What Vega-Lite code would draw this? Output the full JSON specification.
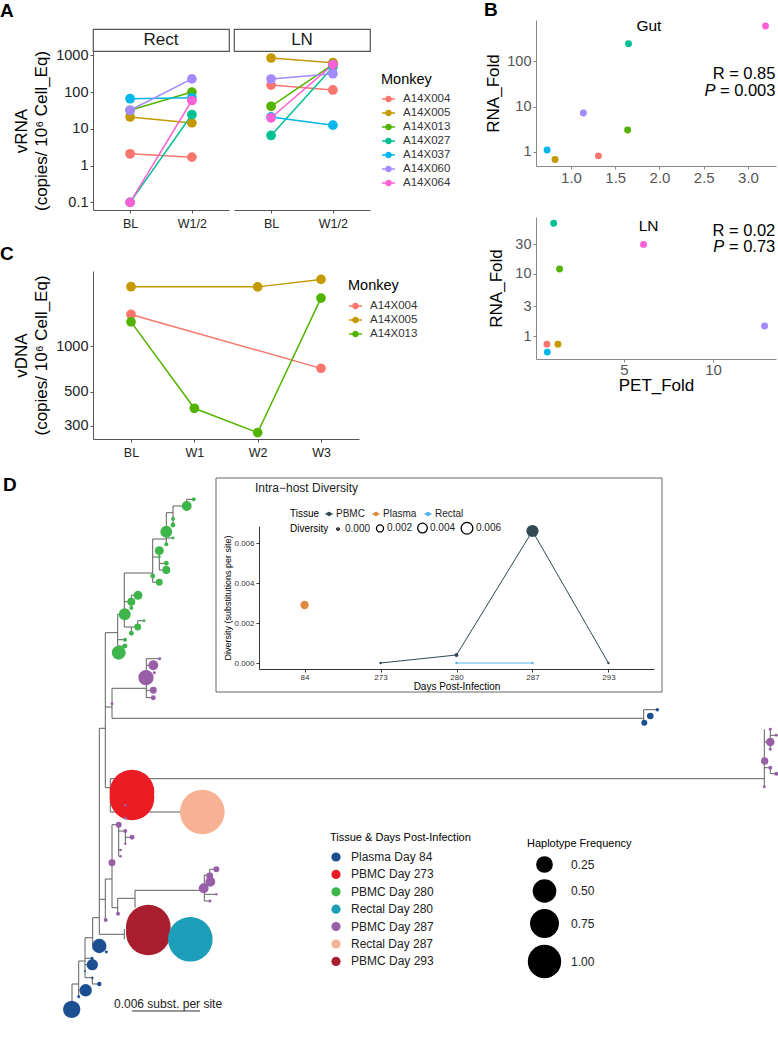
{
"$schema": "https://vega.github.io/schema/vega-lite/v6.json",
"padding": {"left": 0, "top": 0, "right": 0, "bottom": 0},
"background": "white",
"config": {
  "font": "Liberation Sans",
  "view": {"stroke": null},
  "axis": {"grid": false, "domainColor": "#555", "tickColor": "#555", "labelColor": "#222", "titleColor": "#000", "titleFontWeight": "normal", "tickSize": 3, "domainWidth": 1, "tickWidth": 1},
  "legend": {"titleFontWeight": "normal", "titleColor": "#000", "labelColor": "#222"},
  "title": {"fontSize": 19, "fontWeight": "bold", "anchor": "start", "frame": "group", "color": "#000"}
},
"datasets": {
  "vrna": [
    {"site":"Rect","time":"BL","monkey":"A14X004","value":2.1},
    {"site":"Rect","time":"W1/2","monkey":"A14X004","value":1.7},
    {"site":"Rect","time":"BL","monkey":"A14X005","value":21},
    {"site":"Rect","time":"W1/2","monkey":"A14X005","value":14.5},
    {"site":"Rect","time":"BL","monkey":"A14X013","value":32},
    {"site":"Rect","time":"W1/2","monkey":"A14X013","value":100},
    {"site":"Rect","time":"BL","monkey":"A14X027","value":0.1},
    {"site":"Rect","time":"W1/2","monkey":"A14X027","value":24.5},
    {"site":"Rect","time":"BL","monkey":"A14X037","value":66},
    {"site":"Rect","time":"W1/2","monkey":"A14X037","value":70},
    {"site":"Rect","time":"BL","monkey":"A14X060","value":32},
    {"site":"Rect","time":"W1/2","monkey":"A14X060","value":228},
    {"site":"Rect","time":"BL","monkey":"A14X064","value":0.1},
    {"site":"Rect","time":"W1/2","monkey":"A14X064","value":59},
    {"site":"LN","time":"BL","monkey":"A14X004","value":155},
    {"site":"LN","time":"W1/2","monkey":"A14X004","value":114},
    {"site":"LN","time":"BL","monkey":"A14X005","value":845},
    {"site":"LN","time":"W1/2","monkey":"A14X005","value":630},
    {"site":"LN","time":"BL","monkey":"A14X013","value":41},
    {"site":"LN","time":"W1/2","monkey":"A14X013","value":570},
    {"site":"LN","time":"BL","monkey":"A14X027","value":6.6},
    {"site":"LN","time":"W1/2","monkey":"A14X027","value":480},
    {"site":"LN","time":"BL","monkey":"A14X037","value":21},
    {"site":"LN","time":"W1/2","monkey":"A14X037","value":12.6},
    {"site":"LN","time":"BL","monkey":"A14X060","value":226},
    {"site":"LN","time":"W1/2","monkey":"A14X060","value":316},
    {"site":"LN","time":"BL","monkey":"A14X064","value":20},
    {"site":"LN","time":"W1/2","monkey":"A14X064","value":560}
  ],
  "vdna": [
    {"monkey":"A14X004","time":"BL","value":1610},
    {"monkey":"A14X004","time":"W3","value":714},
    {"monkey":"A14X005","time":"BL","value":2445},
    {"monkey":"A14X005","time":"W2","value":2440},
    {"monkey":"A14X005","time":"W3","value":2730},
    {"monkey":"A14X013","time":"BL","value":1440},
    {"monkey":"A14X013","time":"W1","value":391},
    {"monkey":"A14X013","time":"W2","value":271},
    {"monkey":"A14X013","time":"W3","value":2060}
  ],
  "gut": [
    {"monkey":"A14X004","pet":1.31,"rna":0.82},
    {"monkey":"A14X005","pet":0.82,"rna":0.68},
    {"monkey":"A14X013","pet":1.64,"rna":3.06},
    {"monkey":"A14X027","pet":1.65,"rna":244},
    {"monkey":"A14X037","pet":0.73,"rna":1.1},
    {"monkey":"A14X060","pet":1.14,"rna":7.2},
    {"monkey":"A14X064","pet":3.197,"rna":600}
  ],
  "ln": [
    {"monkey":"A14X004","pet":0.67,"rna":0.74},
    {"monkey":"A14X005","pet":1.29,"rna":0.74},
    {"monkey":"A14X013","pet":1.38,"rna":12},
    {"monkey":"A14X027","pet":1.05,"rna":66},
    {"monkey":"A14X037","pet":0.69,"rna":0.55},
    {"monkey":"A14X060","pet":12.9,"rna":1.45},
    {"monkey":"A14X064","pet":6.1,"rna":30}
  ],
  "edges": [
    {"x1":104.3,"y1":631.7,"x2":116.7,"y2":631.7},
    {"x1":116.7,"y1":613.3,"x2":116.7,"y2":651.7},
    {"x1":116.7,"y1":613.3,"x2":123.3,"y2":613.3},
    {"x1":116.7,"y1":638.7,"x2":124,"y2":638.7},
    {"x1":116.7,"y1":645,"x2":124,"y2":645},
    {"x1":123.3,"y1":572,"x2":123.3,"y2":626},
    {"x1":123.3,"y1":626,"x2":136.7,"y2":626},
    {"x1":130.3,"y1":626,"x2":130.3,"y2":632.3},
    {"x1":136.7,"y1":619.7,"x2":136.7,"y2":626},
    {"x1":136.7,"y1":619.7,"x2":143,"y2":619.7},
    {"x1":123.3,"y1":600.7,"x2":130.3,"y2":600.7},
    {"x1":130.3,"y1":594.3,"x2":130.3,"y2":607},
    {"x1":130.3,"y1":594.3,"x2":137,"y2":594.3},
    {"x1":123.3,"y1":572,"x2":151.7,"y2":572},
    {"x1":151.7,"y1":538,"x2":151.7,"y2":581.3},
    {"x1":151.7,"y1":581.3,"x2":158.3,"y2":581.3},
    {"x1":151.7,"y1":556,"x2":158.3,"y2":556},
    {"x1":158.3,"y1":549.7,"x2":158.3,"y2":569},
    {"x1":158.3,"y1":562.3,"x2":165.3,"y2":562.3},
    {"x1":158.3,"y1":569,"x2":165.3,"y2":569},
    {"x1":151.7,"y1":538,"x2":165.3,"y2":538},
    {"x1":165.3,"y1":511.7,"x2":165.3,"y2":543.3},
    {"x1":165.3,"y1":537,"x2":172,"y2":537},
    {"x1":165.3,"y1":511.7,"x2":172,"y2":511.7},
    {"x1":172,"y1":505,"x2":172,"y2":524},
    {"x1":172,"y1":505,"x2":185.7,"y2":505},
    {"x1":185.7,"y1":498.3,"x2":185.7,"y2":505},
    {"x1":185.7,"y1":498.3,"x2":192.7,"y2":498.3},
    {"x1":104.3,"y1":631.7,"x2":104.3,"y2":786.7},
    {"x1":104.3,"y1":706,"x2":111,"y2":706},
    {"x1":111,"y1":687.3,"x2":111,"y2":717.3},
    {"x1":111,"y1":687.3,"x2":145.3,"y2":687.3},
    {"x1":145.3,"y1":657.7,"x2":145.3,"y2":696.7},
    {"x1":145.3,"y1":657.7,"x2":158.7,"y2":657.7},
    {"x1":145.3,"y1":664.3,"x2":152.3,"y2":664.3},
    {"x1":145.3,"y1":689.3,"x2":152.3,"y2":689.3},
    {"x1":145.3,"y1":696.7,"x2":152.3,"y2":696.7},
    {"x1":111,"y1":717.3,"x2":642.7,"y2":717.3},
    {"x1":642.7,"y1":708.7,"x2":642.7,"y2":721.7},
    {"x1":642.7,"y1":708.7,"x2":656.3,"y2":708.7},
    {"x1":98.3,"y1":727.3,"x2":104.3,"y2":727.3},
    {"x1":98.3,"y1":727.3,"x2":98.3,"y2":933.3},
    {"x1":104.3,"y1":786.7,"x2":109.3,"y2":786.7},
    {"x1":109.3,"y1":777.7,"x2":109.3,"y2":811},
    {"x1":109.3,"y1":777.7,"x2":763.3,"y2":777.7},
    {"x1":763.3,"y1":728.3,"x2":763.3,"y2":785.7},
    {"x1":763.3,"y1":741,"x2":769.3,"y2":741},
    {"x1":769.3,"y1":728.3,"x2":769.3,"y2":748.3},
    {"x1":769.3,"y1":734.3,"x2":775.3,"y2":734.3},
    {"x1":763.3,"y1":766.7,"x2":769.3,"y2":766.7},
    {"x1":769.3,"y1":766.7,"x2":769.3,"y2":772.7},
    {"x1":769.3,"y1":772.7,"x2":775.3,"y2":772.7},
    {"x1":109.3,"y1":811,"x2":180,"y2":811},
    {"x1":111,"y1":823.7,"x2":111,"y2":906.7},
    {"x1":111,"y1":823.7,"x2":117.7,"y2":823.7},
    {"x1":117.7,"y1":823.7,"x2":117.7,"y2":855.3},
    {"x1":117.7,"y1":830,"x2":124.3,"y2":830},
    {"x1":124.3,"y1":830,"x2":124.3,"y2":842.7},
    {"x1":124.3,"y1":836.3,"x2":131,"y2":836.3},
    {"x1":117.7,"y1":849,"x2":119.7,"y2":849},
    {"x1":117.7,"y1":855.3,"x2":119.7,"y2":855.3},
    {"x1":104.3,"y1":878,"x2":111,"y2":878},
    {"x1":104.3,"y1":878,"x2":104.3,"y2":919},
    {"x1":98.3,"y1":898.3,"x2":104.3,"y2":898.3},
    {"x1":111,"y1":906.7,"x2":116.7,"y2":906.7},
    {"x1":116.7,"y1":897.3,"x2":116.7,"y2":912.7},
    {"x1":116.7,"y1":897.3,"x2":134,"y2":897.3},
    {"x1":134,"y1":889.3,"x2":134,"y2":906.7},
    {"x1":134,"y1":889.3,"x2":203.3,"y2":889.3},
    {"x1":203.3,"y1":874,"x2":203.3,"y2":900},
    {"x1":203.3,"y1":874,"x2":208.7,"y2":874},
    {"x1":208.7,"y1":868.3,"x2":208.7,"y2":880.7},
    {"x1":208.7,"y1":868.3,"x2":215.3,"y2":868.3},
    {"x1":203.3,"y1":893.3,"x2":215.3,"y2":893.3},
    {"x1":203.3,"y1":900,"x2":209,"y2":900},
    {"x1":98.3,"y1":933.3,"x2":123.3,"y2":933.3},
    {"x1":123.3,"y1":928,"x2":123.3,"y2":938.3},
    {"x1":91.7,"y1":916.7,"x2":98.3,"y2":916.7},
    {"x1":91.7,"y1":916.7,"x2":91.7,"y2":945},
    {"x1":91.7,"y1":945,"x2":98.3,"y2":945},
    {"x1":84,"y1":936.7,"x2":91.7,"y2":936.7},
    {"x1":84,"y1":936.7,"x2":84,"y2":976.7},
    {"x1":84,"y1":957.3,"x2":91,"y2":957.3},
    {"x1":84,"y1":963.7,"x2":91.3,"y2":963.7},
    {"x1":84,"y1":976.7,"x2":91.3,"y2":976.7},
    {"x1":91.3,"y1":976.7,"x2":91.3,"y2":983},
    {"x1":91.3,"y1":983,"x2":98.3,"y2":983},
    {"x1":77.7,"y1":960,"x2":84,"y2":960},
    {"x1":77.7,"y1":960,"x2":77.7,"y2":995.7},
    {"x1":77.7,"y1":989.3,"x2":84.7,"y2":989.3},
    {"x1":71,"y1":983,"x2":77.7,"y2":983},
    {"x1":71,"y1":983,"x2":71,"y2":1008.3}
  ],
  "nodes": [
    {"x":131,"y":791,"group":"PBMC Day 273","freq":1.0},
    {"x":131,"y":797,"group":"PBMC Day 273","freq":1.0},
    {"x":201.3,"y":811,"group":"Rectal Day 287","freq":1.0},
    {"x":147.3,"y":926,"group":"PBMC Day 293","freq":1.0},
    {"x":147.3,"y":932,"group":"PBMC Day 293","freq":1.0},
    {"x":189.3,"y":938.3,"group":"Rectal Day 280","freq":1.0},
    {"x":98.3,"y":945,"group":"Plasma Day 84","freq":0.105},
    {"x":105.3,"y":951,"group":"Plasma Day 84","freq":0.0044},
    {"x":91.3,"y":963.7,"group":"Plasma Day 84","freq":0.064},
    {"x":91,"y":957.3,"group":"Plasma Day 84","freq":0.0044},
    {"x":84.7,"y":989.3,"group":"Plasma Day 84","freq":0.078},
    {"x":77.7,"y":995.7,"group":"Plasma Day 84","freq":0.0044},
    {"x":91.3,"y":976.7,"group":"Plasma Day 84","freq":0.0033},
    {"x":98.3,"y":983,"group":"Plasma Day 84","freq":0.010},
    {"x":84,"y":970,"group":"Plasma Day 84","freq":0.002},
    {"x":70.7,"y":1008.3,"group":"Plasma Day 84","freq":0.150},
    {"x":643.3,"y":721.7,"group":"Plasma Day 84","freq":0.018},
    {"x":649.3,"y":715,"group":"Plasma Day 84","freq":0.022},
    {"x":656.3,"y":708.7,"group":"Plasma Day 84","freq":0.006},
    {"x":192.7,"y":498.3,"group":"PBMC Day 280","freq":0.008},
    {"x":185.7,"y":505,"group":"PBMC Day 280","freq":0.049},
    {"x":172,"y":517.7,"group":"PBMC Day 280","freq":0.008},
    {"x":172,"y":524,"group":"PBMC Day 280","freq":0.012},
    {"x":165.3,"y":530.7,"group":"PBMC Day 280","freq":0.071},
    {"x":172,"y":537,"group":"PBMC Day 280","freq":0.0044},
    {"x":165.3,"y":543.3,"group":"PBMC Day 280","freq":0.008},
    {"x":158.3,"y":549.7,"group":"PBMC Day 280","freq":0.040},
    {"x":158.3,"y":556,"group":"PBMC Day 280","freq":0.0044},
    {"x":165.3,"y":562.3,"group":"PBMC Day 280","freq":0.012},
    {"x":165.3,"y":569,"group":"PBMC Day 280","freq":0.032},
    {"x":151.7,"y":575,"group":"PBMC Day 280","freq":0.012},
    {"x":158.3,"y":581.3,"group":"PBMC Day 280","freq":0.024},
    {"x":137,"y":594.3,"group":"PBMC Day 280","freq":0.040},
    {"x":130.3,"y":600.7,"group":"PBMC Day 280","freq":0.032},
    {"x":130.3,"y":607,"group":"PBMC Day 280","freq":0.008},
    {"x":123.7,"y":613.3,"group":"PBMC Day 280","freq":0.071},
    {"x":143,"y":619.7,"group":"PBMC Day 280","freq":0.0044},
    {"x":136.7,"y":626,"group":"PBMC Day 280","freq":0.024},
    {"x":130.3,"y":632.3,"group":"PBMC Day 280","freq":0.012},
    {"x":124,"y":638.7,"group":"PBMC Day 280","freq":0.008},
    {"x":124,"y":645,"group":"PBMC Day 280","freq":0.012},
    {"x":117.7,"y":651.7,"group":"PBMC Day 280","freq":0.097},
    {"x":145,"y":676.7,"group":"PBMC Day 287","freq":0.117},
    {"x":152.3,"y":664.3,"group":"PBMC Day 287","freq":0.049},
    {"x":152.3,"y":689.3,"group":"PBMC Day 287","freq":0.024},
    {"x":152.3,"y":696.7,"group":"PBMC Day 287","freq":0.012},
    {"x":158.7,"y":657.7,"group":"PBMC Day 287","freq":0.0044},
    {"x":153.3,"y":671.7,"group":"PBMC Day 287","freq":0.0044},
    {"x":111,"y":702.7,"group":"PBMC Day 287","freq":0.0044},
    {"x":117.7,"y":823.7,"group":"PBMC Day 287","freq":0.018},
    {"x":124.3,"y":830,"group":"PBMC Day 287","freq":0.008},
    {"x":131,"y":836.3,"group":"PBMC Day 287","freq":0.012},
    {"x":124.3,"y":842.7,"group":"PBMC Day 287","freq":0.0028},
    {"x":119.7,"y":849,"group":"PBMC Day 287","freq":0.0028},
    {"x":119.7,"y":855.3,"group":"PBMC Day 287","freq":0.0028},
    {"x":111,"y":861.7,"group":"PBMC Day 287","freq":0.024},
    {"x":117,"y":912.7,"group":"PBMC Day 287","freq":0.008},
    {"x":104.7,"y":919,"group":"PBMC Day 287","freq":0.008},
    {"x":124.3,"y":804.3,"group":"PBMC Day 287","freq":0.0033},
    {"x":124.3,"y":817.3,"group":"PBMC Day 287","freq":0.0044},
    {"x":202.7,"y":887.3,"group":"PBMC Day 287","freq":0.049},
    {"x":209.3,"y":880.7,"group":"PBMC Day 287","freq":0.049},
    {"x":208.7,"y":875,"group":"PBMC Day 287","freq":0.024},
    {"x":215.3,"y":868.3,"group":"PBMC Day 287","freq":0.018},
    {"x":215.3,"y":893.3,"group":"PBMC Day 287","freq":0.0028},
    {"x":209,"y":900,"group":"PBMC Day 287","freq":0.0044},
    {"x":769.3,"y":741,"group":"PBMC Day 287","freq":0.037},
    {"x":763.7,"y":760,"group":"PBMC Day 287","freq":0.027},
    {"x":769.3,"y":728.3,"group":"PBMC Day 287","freq":0.0044},
    {"x":775.3,"y":734.3,"group":"PBMC Day 287","freq":0.0044},
    {"x":769.3,"y":748.3,"group":"PBMC Day 287","freq":0.0044},
    {"x":769.3,"y":766.7,"group":"PBMC Day 287","freq":0.008},
    {"x":775.3,"y":772.7,"group":"PBMC Day 287","freq":0.008},
    {"x":763.3,"y":785.7,"group":"PBMC Day 287","freq":0.0044}
  ],
  "div": [
    {"tissue":"Plasma","day":84,"div":0.0029},
    {"tissue":"PBMC","day":273,"div":0},
    {"tissue":"PBMC","day":280,"div":0.0004},
    {"tissue":"PBMC","day":287,"div":0.0066},
    {"tissue":"PBMC","day":293,"div":0},
    {"tissue":"Rectal","day":280,"div":0},
    {"tissue":"Rectal","day":287,"div":0}
  ]
},
"vconcat": [
  {
    "hconcat": [
      {
        "vconcat": [
          {
            "hconcat": [
              {
                "vconcat": [
                  {
                    "width": 136, "height": 9,
                    "title": {"text": "A", "dx": -93, "offset": -1},
                    "data": {"values": []},
                    "mark": "text"
                  },
                  {
                    "width": 136, "height": 22,
                    "view": {"stroke": "#555", "strokeWidth": 1.2},
                    "data": {"values": [{"s": "Rect"}]},
                    "mark": {"type": "text", "fontSize": 17, "color": "#1a1a1a"},
                    "encoding": {"text": {"field": "s"}}
                  },
                  {
                    "width": 136, "height": 159,
                    "data": {"name": "vrna"},
                    "transform": [{"filter": "datum.site === 'Rect'"}],
                    "encoding": {
                      "x": {"field": "time", "type": "nominal", "scale": {"type": "point", "padding": 0.6, "domain": ["BL", "W1/2"]}, "axis": {"title": null, "labelAngle": 0, "labelFontSize": 12.5, "labelPadding": 4}},
                      "y": {"field": "value", "type": "quantitative", "scale": {"type": "log", "domain": [0.062, 1310], "nice": false}, "axis": {"values": [0.1, 1, 10, 100, 1000], "format": "~g", "labelFontSize": 14.5, "title": ["vRNA", "(copies/ 10⁶ Cell_Eq)"], "titleFontSize": 17, "titleLineHeight": 20, "titlePadding": 5}},
                      "color": {"field": "monkey", "type": "nominal", "scale": {"domain": ["A14X004","A14X005","A14X013","A14X027","A14X037","A14X060","A14X064"], "range": ["#F8766D","#C49A00","#53B400","#00C094","#00B6EB","#A58AFF","#FB61D7"]}, "legend": null}
                    },
                    "layer": [
                      {"mark": {"type": "line", "strokeWidth": 1.5}},
                      {"mark": {"type": "point", "filled": true, "size": 95, "opacity": 1}}
                    ]
                  }
                ],
                "bounds": "flush", "spacing": 0
              },
              {
                "vconcat": [
                  {
                    "width": 136, "height": 9,
                    "data": {"values": []},
                    "mark": "text"
                  },
                  {
                    "width": 136, "height": 22,
                    "view": {"stroke": "#555", "strokeWidth": 1.2},
                    "data": {"values": [{"s": "LN"}]},
                    "mark": {"type": "text", "fontSize": 17, "color": "#1a1a1a"},
                    "encoding": {"text": {"field": "s"}}
                  },
                  {
                    "width": 136, "height": 159,
                    "data": {"name": "vrna"},
                    "transform": [{"filter": "datum.site === 'LN'"}],
                    "encoding": {
                      "x": {"field": "time", "type": "nominal", "scale": {"type": "point", "padding": 0.6, "domain": ["BL", "W1/2"]}, "axis": {"title": null, "labelAngle": 0, "labelFontSize": 12.5, "labelPadding": 4}},
                      "y": {"field": "value", "type": "quantitative", "scale": {"type": "log", "domain": [0.062, 1310], "nice": false}, "axis": null},
                      "color": {"field": "monkey", "type": "nominal", "scale": {"domain": ["A14X004","A14X005","A14X013","A14X027","A14X037","A14X060","A14X064"], "range": ["#F8766D","#C49A00","#53B400","#00C094","#00B6EB","#A58AFF","#FB61D7"]},
                        "legend": {"title": "Monkey", "orient": "none", "legendX": 147, "legendY": 22, "titleFontSize": 14.5, "labelFontSize": 11.5, "labelColor": "#333", "symbolType": "M-1,0L1,0M-0.4,0A0.4,0.4,0,1,0,0.4,0A0.4,0.4,0,1,0,-0.4,0Z", "symbolSize": 170, "symbolStrokeWidth": 1.5, "rowPadding": -0.3, "titlePadding": 4, "labelOffset": 7}}
                    },
                    "layer": [
                      {"mark": {"type": "line", "strokeWidth": 1.5}},
                      {"mark": {"type": "point", "filled": true, "size": 95, "opacity": 1}}
                    ]
                  }
                ],
                "bounds": "flush", "spacing": 0,
                "resolve": {"scale": {"color": "independent"}, "legend": {"color": "independent"}}
              }
            ],
            "spacing": 3,
            "resolve": {"scale": {"color": "independent"}, "legend": {"color": "independent"}}
          },
          {
            "width": 266, "height": 168,
            "title": {"text": "C", "dx": -93, "offset": 7},
            "data": {"name": "vdna"},
            "encoding": {
              "x": {"field": "time", "type": "nominal", "scale": {"type": "point", "padding": 0.6, "domain": ["BL", "W1", "W2", "W3"]}, "axis": {"title": null, "labelAngle": 0, "labelFontSize": 12.5, "labelPadding": 4}},
              "y": {"field": "value", "type": "quantitative", "scale": {"type": "log", "domain": [246, 3100], "nice": false}, "axis": {"values": [300, 500, 1000], "format": "d", "labelFontSize": 14.5, "title": ["vDNA", "(copies/ 10⁶ Cell_Eq)"], "titleFontSize": 17, "titleLineHeight": 20, "titlePadding": 5}},
              "color": {"field": "monkey", "type": "nominal", "scale": {"domain": ["A14X004","A14X005","A14X013"], "range": ["#F8766D","#C49A00","#53B400"]},
                "legend": {"title": "Monkey", "orient": "none", "legendX": 255, "legendY": 8, "titleFontSize": 14.5, "labelFontSize": 11.5, "labelColor": "#333", "symbolType": "M-1,0L1,0M-0.4,0A0.4,0.4,0,1,0,0.4,0A0.4,0.4,0,1,0,-0.4,0Z", "symbolSize": 170, "symbolStrokeWidth": 1.5, "rowPadding": -0.3, "titlePadding": 5, "labelOffset": 7}}
            },
            "layer": [
              {"mark": {"type": "line", "strokeWidth": 1.5}},
              {"mark": {"type": "point", "filled": true, "size": 95, "opacity": 1}}
            ]
          }
        ],
        "spacing": 15,
        "resolve": {"scale": {"color": "independent"}, "legend": {"color": "independent"}}
      },
      {
        "vconcat": [
          {
            "width": 240, "height": 146,
            "title": {"text": "B", "dx": -52, "offset": -1},
            "layer": [
              {
                "data": {"name": "gut"},
                "mark": {"type": "point", "filled": true, "size": 48, "opacity": 1},
                "encoding": {
                  "x": {"field": "pet", "type": "quantitative", "scale": {"domain": [0.605, 3.316], "nice": false, "zero": false}, "axis": {"values": [1, 1.5, 2, 2.5, 3], "format": ".1f", "title": null, "labelFontSize": 15, "labelColor": "#555", "labelPadding": 1, "domainColor": "#888", "tickColor": "#888"}},
                  "y": {"field": "rna", "type": "quantitative", "scale": {"type": "log", "domain": [0.49, 813], "nice": false}, "axis": {"values": [1, 10, 100], "format": "~g", "title": "RNA_Fold", "titleFontSize": 17, "titlePadding": 4, "labelFontSize": 14.5, "labelColor": "#555", "domainColor": "#888", "tickColor": "#888"}},
                  "color": {"field": "monkey", "type": "nominal", "scale": {"domain": ["A14X004","A14X005","A14X013","A14X027","A14X037","A14X060","A14X064"], "range": ["#F8766D","#C49A00","#53B400","#00C094","#00B6EB","#A58AFF","#FB61D7"]}, "legend": null}
                }
              },
              {
                "data": {"values": [{"pet": 1.88, "rna": 600, "label": "Gut"}]},
                "mark": {"type": "text", "fontSize": 15.5, "align": "center", "baseline": "middle", "color": "#000"},
                "encoding": {"x": {"field": "pet", "type": "quantitative"}, "y": {"field": "rna", "type": "quantitative"}, "text": {"field": "label"}}
              },
              {
                "data": {"values": [{"pet": 3.31, "rna": 52.5, "label": "R = 0.85"}, {"pet": 3.31, "rna": 22, "label": "= 0.003"}]},
                "mark": {"type": "text", "fontSize": 16.5, "align": "right", "baseline": "middle", "color": "#000"},
                "encoding": {"x": {"field": "pet", "type": "quantitative"}, "y": {"field": "rna", "type": "quantitative"}, "text": {"field": "label"}}
              },
              {
                "data": {"values": [{"pet": 3.31, "rna": 22, "label": "P"}]},
                "mark": {"type": "text", "fontSize": 16.5, "fontStyle": "italic", "align": "right", "baseline": "middle", "dx": -60, "color": "#000"},
                "encoding": {"x": {"field": "pet", "type": "quantitative"}, "y": {"field": "rna", "type": "quantitative"}, "text": {"field": "label"}}
              }
            ]
          },
          {
            "width": 240, "height": 142,
            "layer": [
              {
                "data": {"name": "ln"},
                "mark": {"type": "point", "filled": true, "size": 48, "opacity": 1},
                "encoding": {
                  "x": {"field": "pet", "type": "quantitative", "scale": {"domain": [0.056, 13.54], "nice": false, "zero": false}, "axis": {"values": [5, 10], "format": "d", "title": "PET_Fold", "titleFontSize": 17, "titlePadding": 0, "labelFontSize": 15, "labelColor": "#555", "labelPadding": 0, "domainColor": "#888", "tickColor": "#888"}},
                  "y": {"field": "rna", "type": "quantitative", "scale": {"type": "log", "domain": [0.426, 83], "nice": false}, "axis": {"values": [1, 3, 10, 30], "format": "~g", "title": "RNA_Fold", "titleFontSize": 17, "titlePadding": 9, "labelFontSize": 14.5, "labelColor": "#555", "domainColor": "#888", "tickColor": "#888"}},
                  "color": {"field": "monkey", "type": "nominal", "scale": {"domain": ["A14X004","A14X005","A14X013","A14X027","A14X037","A14X060","A14X064"], "range": ["#F8766D","#C49A00","#53B400","#00C094","#00B6EB","#A58AFF","#FB61D7"]}, "legend": null}
                }
              },
              {
                "data": {"values": [{"pet": 6.38, "rna": 59, "label": "LN"}]},
                "mark": {"type": "text", "fontSize": 15.5, "align": "center", "baseline": "middle", "color": "#000"},
                "encoding": {"x": {"field": "pet", "type": "quantitative"}, "y": {"field": "rna", "type": "quantitative"}, "text": {"field": "label"}}
              },
              {
                "data": {"values": [{"pet": 13.5, "rna": 50, "label": "R = 0.02"}, {"pet": 13.5, "rna": 27, "label": "= 0.73"}]},
                "mark": {"type": "text", "fontSize": 16.5, "align": "right", "baseline": "middle", "color": "#000"},
                "encoding": {"x": {"field": "pet", "type": "quantitative"}, "y": {"field": "rna", "type": "quantitative"}, "text": {"field": "label"}}
              },
              {
                "data": {"values": [{"pet": 13.5, "rna": 27, "label": "P"}]},
                "mark": {"type": "text", "fontSize": 16.5, "fontStyle": "italic", "align": "right", "baseline": "middle", "dx": -51, "color": "#000"},
                "encoding": {"x": {"field": "pet", "type": "quantitative"}, "y": {"field": "rna", "type": "quantitative"}, "text": {"field": "label"}}
              }
            ]
          }
        ],
        "bounds": "flush", "spacing": 51,
        "resolve": {"scale": {"color": "independent"}, "legend": {"color": "independent"}}
      }
    ],
    "spacing": 33,
    "resolve": {"scale": {"color": "independent"}, "legend": {"color": "independent"}}
  },
  {
    "width": 686, "height": 560,
    "title": {"text": "D", "dx": -90, "offset": -19},
    "layer": [
      {
        "layer": [
          {
            "data": {"name": "edges"},
            "mark": {"type": "rule", "color": "#5f5f5f", "strokeWidth": 1},
            "encoding": {
              "x": {"field": "x1", "type": "quantitative", "scale": {"domain": [92, 778], "nice": false, "zero": false}, "axis": null},
              "x2": {"field": "x2"},
              "y": {"field": "y1", "type": "quantitative", "scale": {"domain": [475, 1035], "reverse": true, "nice": false, "zero": false}, "axis": null},
              "y2": {"field": "y2"}
            }
          },
          {
            "data": {"values": [{"bx": 215, "bx2": 661, "by": 477, "by2": 691}]},
            "mark": {"type": "rect", "fill": "transparent", "stroke": "#666", "strokeWidth": 1},
            "encoding": {"x": {"field": "bx", "type": "quantitative"}, "x2": {"field": "bx2"}, "y": {"field": "by", "type": "quantitative"}, "y2": {"field": "by2"}}
          },
          {
            "data": {"values": [{"hx": 131, "hy": 794, "hf": 0.25}, {"hx": 131, "hy": 794, "hf": 0.5}, {"hx": 131, "hy": 794, "hf": 0.75}, {"hx": 131, "hy": 794, "hf": 1.0}]},
            "mark": {"type": "point", "filled": true, "color": "#000", "opacity": 1},
            "encoding": {
              "x": {"field": "hx", "type": "quantitative"},
              "y": {"field": "hy", "type": "quantitative"},
              "size": {"field": "hf", "type": "quantitative", "scale": {"domain": [0, 1], "range": [0, 1115]},
                "legend": {"title": "Haplotype Frequency", "orient": "none", "legendX": 434, "legendY": 362, "values": [0.25, 0.5, 0.75, 1], "format": ".2f", "labelFontSize": 12, "titleFontSize": 11, "rowPadding": 0, "labelOffset": 9, "titlePadding": 6, "symbolFillColor": "#000", "symbolStrokeColor": "#000"}}
            }
          },
          {
            "data": {"name": "nodes"},
            "mark": {"type": "point", "filled": true, "opacity": 1},
            "encoding": {
              "x": {"field": "x", "type": "quantitative"},
              "y": {"field": "y", "type": "quantitative"},
              "color": {"field": "group", "type": "nominal", "scale": {"domain": ["Plasma Day 84","PBMC Day 273","PBMC Day 280","Rectal Day 280","PBMC Day 287","Rectal Day 287","PBMC Day 293"], "range": ["#1C4F91","#EC1C24","#3DB54A","#1C9DB8","#985EA8","#F6B293","#A91E2F"]},
                "legend": {"title": "Tissue & Days Post-Infection", "orient": "none", "legendX": 237, "legendY": 356, "symbolType": "circle", "symbolSize": 85, "labelFontSize": 12, "titleFontSize": 11, "rowPadding": 5.4, "labelOffset": 9, "titlePadding": 8}},
              "size": {"field": "freq", "type": "quantitative", "scale": {"domain": [0, 1], "range": [0, 1990]}, "legend": null}
            }
          },
          {
            "data": {"values": [{"sx": 131, "sx2": 199, "sy": 1010}]},
            "mark": {"type": "rule", "color": "#333", "strokeWidth": 1},
            "encoding": {"x": {"field": "sx", "type": "quantitative"}, "x2": {"field": "sx2"}, "y": {"field": "sy", "type": "quantitative"}}
          },
          {
            "data": {"values": [{"tx": 113, "ty": 1003.3, "label": "0.006 subst. per site"}, {"tx": 254, "ty": 487, "label": "Intra−host Diversity"}]},
            "mark": {"type": "text", "align": "left", "baseline": "middle", "fontSize": 12, "color": "#222"},
            "encoding": {"x": {"field": "tx", "type": "quantitative"}, "y": {"field": "ty", "type": "quantitative"}, "text": {"field": "label"}}
          }
        ],
        "resolve": {"scale": {"size": "independent", "color": "independent"}}
      },
      {
        "data": {"name": "div"},
        "encoding": {
          "x": {"field": "day", "type": "ordinal", "scale": {"type": "point", "domain": [84, 273, 280, 287, 293], "range": [166, 561], "padding": 0.6},
            "axis": {"orient": "bottom", "offset": -367, "title": "Days Post-Infection", "titleFontSize": 10, "titlePadding": 0, "labelFontSize": 8, "labelAngle": 0, "labelColor": "#333", "domainColor": "#333", "tickColor": "#333", "tickSize": 3, "labelPadding": 1}},
          "y": {"field": "div", "type": "quantitative", "scale": {"domain": [-0.0003, 0.00685], "range": [193, 50], "nice": false, "zero": false},
            "axis": {"orient": "left", "offset": -166, "values": [0, 0.002, 0.004, 0.006], "format": ".3f", "title": "Diversity (substitutions per site)", "titleFontSize": 9, "titlePadding": 1, "labelFontSize": 8, "labelColor": "#333", "domainColor": "#333", "tickColor": "#333", "tickSize": 3, "labelPadding": 2}},
          "color": {"field": "tissue", "type": "nominal", "scale": {"domain": ["PBMC", "Plasma", "Rectal"], "range": ["#2F4A52", "#E08B3B", "#56B4E9"]},
            "legend": {"title": "Tissue", "orient": "none", "direction": "horizontal", "titleOrient": "left", "legendX": 197, "legendY": 33, "symbolType": "M-1,0L1,0M-0.4,0A0.4,0.4,0,1,0,0.4,0A0.4,0.4,0,1,0,-0.4,0Z", "symbolSize": 50, "symbolStrokeWidth": 1.5, "labelFontSize": 10, "titleFontSize": 10, "columnPadding": 4, "labelOffset": 2, "titlePadding": 4}}
        },
        "layer": [
          {"mark": {"type": "line", "strokeWidth": 1}},
          {"mark": {"type": "point", "filled": true, "opacity": 1},
           "encoding": {"size": {"field": "div", "type": "quantitative", "scale": {"domain": [0, 0.0066], "range": [6, 150]},
             "legend": {"title": "Diversity", "orient": "none", "direction": "horizontal", "titleOrient": "left", "legendX": 197, "legendY": 45, "values": [0, 0.002, 0.004, 0.006], "format": ".3f", "symbolFillColor": "transparent", "symbolStrokeColor": "#000", "symbolStrokeWidth": 1.3, "labelFontSize": 10, "titleFontSize": 10, "columnPadding": 2, "labelOffset": 2, "titlePadding": 4}}}}
        ]
      }
    ],
    "resolve": {"scale": {"x": "independent", "y": "independent", "color": "independent", "size": "independent"}}
  }
],
"spacing": 17,
"resolve": {"scale": {"color": "independent", "size": "independent"}, "legend": {"color": "independent", "size": "independent"}}
}
